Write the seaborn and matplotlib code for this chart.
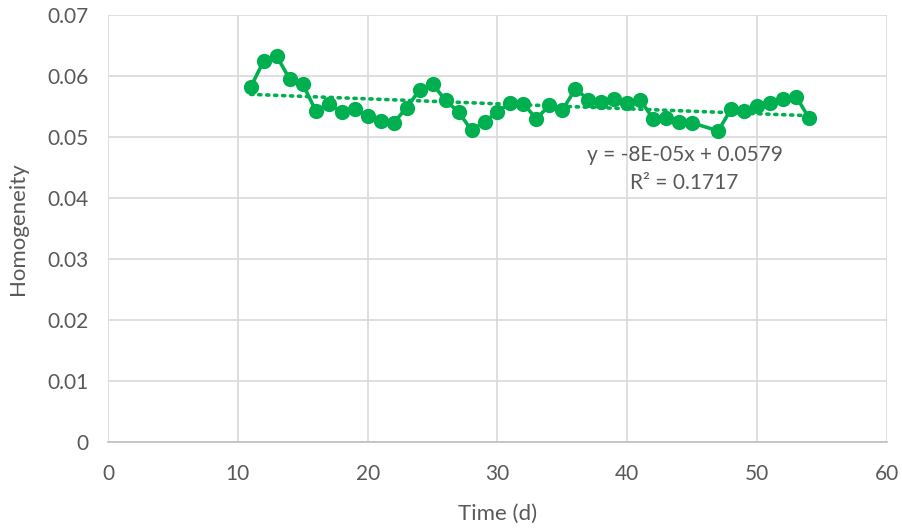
import matplotlib
matplotlib.use("Agg")
import matplotlib.pyplot as plt
import seaborn as sns
import pandas as pd

days = [11, 12, 13, 14, 15, 16, 17, 18, 19, 20, 21, 22, 23, 24, 25, 26, 27, 28,
        29, 30, 31, 32, 33, 34, 35, 36, 37, 38, 39, 40, 41, 42, 43, 44, 45, 47,
        48, 49, 50, 51, 52, 53, 54]
homogeneity = [0.0582, 0.0625, 0.0632, 0.0595, 0.0587, 0.0543, 0.0554, 0.0541,
               0.0546, 0.0534, 0.0526, 0.0523, 0.0548, 0.0577, 0.0587, 0.0560,
               0.0541, 0.0511, 0.0525, 0.0541, 0.0556, 0.0554, 0.0530, 0.0552,
               0.0544, 0.0579, 0.0561, 0.0557, 0.0562, 0.0556, 0.0561, 0.0529,
               0.0531, 0.0525, 0.0523, 0.0510, 0.0546, 0.0543, 0.0551, 0.0556,
               0.0562, 0.0566, 0.0531]
xticks = [0, 10, 20, 30, 40, 50, 60]
yticks = [0, 0.01, 0.02, 0.03, 0.04, 0.05, 0.06, 0.07]
ytick_labels = ["0", "0.01", "0.02", "0.03", "0.04", "0.05", "0.06", "0.07"]
equation = "y = -8E-05x + 0.0579\nR² = 0.1717"

df = pd.DataFrame({"day": days, "homogeneity": homogeneity})

sns.set_style("white")
plt.rcParams["font.family"] = ["Lato", "DejaVu Sans"]

green = "#00B050"
grey = "#595959"

fig = plt.figure(figsize=(9.02, 5.31), dpi=100)
ax = fig.add_axes([0.1197, 0.1676, 0.8637, 0.8042])

# linear trendline (dotted), like Excel's
sns.regplot(data=df, x="day", y="homogeneity", ax=ax, scatter=False, ci=None,
            color=green, line_kws=dict(ls=(0, (0.6, 1.6)), lw=2.6,
                                       dash_capstyle="round"))
sns.lineplot(data=df, x="day", y="homogeneity", ax=ax, color=green, lw=2.6,
             marker="o", markersize=11, markeredgewidth=0)

ax.set_xlim(0, 60)
ax.set_ylim(0, 0.07)
ax.set_xticks(xticks)
ax.set_yticks(yticks)
ax.set_yticklabels(ytick_labels)
ax.grid(True, color="#D9D9D9", lw=1.2)
ax.set_axisbelow(True)
for s in ax.spines.values():
    s.set_visible(False)
ax.spines["bottom"].set_visible(True)
ax.spines["bottom"].set_color("#BFBFBF")
ax.spines["bottom"].set_linewidth(1.2)
ax.tick_params(axis="y", length=0, labelsize=15, labelcolor=grey, pad=14)
ax.tick_params(axis="x", length=0, labelsize=15, labelcolor=grey, pad=16)

ax.set_xlabel("Time (d)", fontsize=16, color=grey, labelpad=14)
ax.set_ylabel("Homogeneity", fontsize=16, color=grey, labelpad=14)

ax.text(44.4, 0.0448, equation, ha="center", va="center", fontsize=15,
        color=grey, linespacing=1.5)

fig.savefig("out.png", dpi=100)
plt.close(fig)
